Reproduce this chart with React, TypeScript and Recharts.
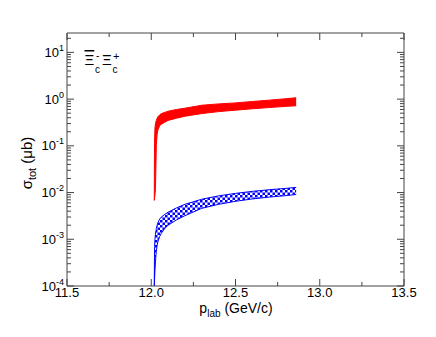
import React from 'react';
import { AreaChart, Area, XAxis, YAxis } from 'recharts';

// p_lab (GeV/c)
const xs = [12.018, 12.019, 12.02, 12.022, 12.025, 12.028, 12.03, 12.035, 12.04, 12.05, 12.06, 12.08, 12.1, 12.15, 12.2, 12.3, 12.4, 12.5, 12.6, 12.7, 12.8, 12.86];
// red band (upper / lower), μb
const redHigh = [0.0068, 0.06, 0.14, 0.24, 0.3, 0.33, 0.35, 0.39, 0.42, 0.46, 0.49, 0.52, 0.55, 0.6, 0.64, 0.74, 0.79, 0.83, 0.89, 0.95, 1.02, 1.07];
const redLow = [0.0068, 0.0072, 0.0078, 0.009, 0.012, 0.04, 0.1, 0.18, 0.22, 0.27, 0.29, 0.32, 0.35, 0.39, 0.43, 0.49, 0.54, 0.58, 0.62, 0.66, 0.7, 0.72];
// blue band (upper / lower), μb
const blueHigh = [0.0001, 0.0004, 0.0007, 0.001, 0.0013, 0.0015, 0.0017, 0.002, 0.0023, 0.0027, 0.003, 0.0034, 0.0038, 0.0047, 0.0056, 0.0072, 0.0085, 0.0096, 0.0106, 0.0115, 0.0123, 0.0129];
const blueLow = [0.0001, 0.00012, 0.00015, 0.00022, 0.00033, 0.00045, 0.00055, 0.00075, 0.0009, 0.00115, 0.00135, 0.0017, 0.002, 0.0026, 0.0032, 0.0046, 0.0056, 0.0065, 0.0073, 0.008, 0.0086, 0.0091];

const xTicks = [11.5, 11.75, 12.0, 12.25, 12.5, 12.75, 13.0, 13.25, 13.5];
const xMajor = [11.5, 12.0, 12.5, 13.0, 13.5];
const yMajorExp = [-4, -3, -2, -1, 0, 1];
const yMinorMult = [1, 2, 3, 4, 5, 6, 7, 8, 9];
const yTop = 26;

const yTicks: number[] = [];
yMajorExp.forEach((e) => {
  yMinorMult.forEach((m) => {
    const v = Number((m * Math.pow(10, e)).toPrecision(6));
    if (v <= yTop) yTicks.push(v);
  });
});

const data = xs.map((x, i) => ({
  x,
  red: [redLow[i], redHigh[i]],
  blue: [blueLow[i], blueHigh[i]],
}));

const FONT = '"Liberation Sans", Arial, Helvetica, sans-serif';
const AXIS = '#444';

const isMajorX = (v: number) => xMajor.some((m) => Math.abs(m - v) < 1e-9);
const isMajorY = (v: number) => Math.abs(Math.log10(v) - Math.round(Math.log10(v))) < 1e-6;

const XTickBottom = (props: any) => {
  const { x, y, payload } = props;
  const major = isMajorX(payload.value);
  return (
    <g>
      <line x1={x} x2={x} y1={y} y2={y - (major ? 7 : 4)} stroke={AXIS} strokeWidth={1} />
      {major && (
        <text x={x} y={y + 11} textAnchor="middle" fontSize={13} fontFamily={FONT} fill="#000">
          {payload.value.toFixed(1)}
        </text>
      )}
    </g>
  );
};

const XTickTop = (props: any) => {
  const { x, y, payload } = props;
  const major = isMajorX(payload.value);
  return <line x1={x} x2={x} y1={y} y2={y + (major ? 7 : 4)} stroke={AXIS} strokeWidth={1} />;
};

const YTickLeft = (props: any) => {
  const { x, y, payload } = props;
  const major = isMajorY(payload.value);
  const e = Math.round(Math.log10(payload.value));
  return (
    <g>
      <line x1={x} x2={x + (major ? 7 : 4)} y1={y} y2={y} stroke={AXIS} strokeWidth={1} />
      {major && (
        <text x={x - 3} y={y + 4.5} textAnchor="end" fontSize={13} fontFamily={FONT} fill="#000">
          10<tspan fontSize={9} dy={-6}>{e}</tspan>
        </text>
      )}
    </g>
  );
};

const YTickRight = (props: any) => {
  const { x, y, payload } = props;
  const major = isMajorY(payload.value);
  return <line x1={x} x2={x - (major ? 7 : 4)} y1={y} y2={y} stroke={AXIS} strokeWidth={1} />;
};

export default function App() {
  return (
    <div style={{ position: 'absolute', left: 0, top: 0, width: 436, height: 337, background: '#fff' }}>
      <svg width={0} height={0} style={{ position: 'absolute' }}>
        <defs>
          <pattern id="checker" width={5} height={5} patternUnits="userSpaceOnUse">
            <rect x={0} y={0} width={5} height={5} fill="#fff" />
            <rect x={0} y={0} width={2.5} height={2.5} fill="#00f" />
            <rect x={2.5} y={2.5} width={2.5} height={2.5} fill="#00f" />
          </pattern>
        </defs>
      </svg>
      <AreaChart width={436} height={337} data={data} margin={{ top: 0, right: 0, bottom: 0, left: 0 }}>
        <XAxis
          xAxisId="b"
          dataKey="x"
          type="number"
          domain={[11.5, 13.5]}
          ticks={xTicks}
          interval={0}
          tickSize={0}
          tickMargin={0}
          tick={<XTickBottom />}
          height={51}
          stroke={AXIS}
          allowDataOverflow
        />
        <XAxis
          xAxisId="t"
          orientation="top"
          dataKey="x"
          type="number"
          domain={[11.5, 13.5]}
          ticks={xTicks}
          interval={0}
          tickSize={0}
          tickMargin={0}
          tick={<XTickTop />}
          height={33}
          stroke={AXIS}
          allowDataOverflow
        />
        <YAxis
          yAxisId="l"
          type="number"
          scale="log"
          domain={[1e-4, yTop]}
          ticks={yTicks}
          interval={0}
          tickSize={0}
          tickMargin={0}
          tick={<YTickLeft />}
          width={67}
          stroke={AXIS}
          allowDataOverflow
        />
        <YAxis
          yAxisId="r"
          orientation="right"
          type="number"
          scale="log"
          domain={[1e-4, yTop]}
          ticks={yTicks}
          interval={0}
          tickSize={0}
          tickMargin={0}
          tick={<YTickRight />}
          width={32}
          stroke={AXIS}
          allowDataOverflow
        />
        <Area
          xAxisId="b"
          yAxisId="l"
          dataKey="red"
          type="linear"
          stroke="#ff0000"
          strokeWidth={1}
          fill="#ff0000"
          fillOpacity={1}
          isAnimationActive={false}
        />
        <Area
          xAxisId="b"
          yAxisId="l"
          dataKey="blue"
          type="linear"
          stroke="#0000ff"
          strokeWidth={1}
          fill="url(#checker)"
          fillOpacity={1}
          isAnimationActive={false}
        />
      </AreaChart>
      <svg width={436} height={337} style={{ position: 'absolute', left: 0, top: 0, pointerEvents: 'none' }}>
        <g fontFamily={FONT} fill="#000">
          <text x={236} y={313} textAnchor="middle" fontSize={14}>
            p<tspan fontSize={10} dy={4}>lab</tspan>
            <tspan dy={-4}> (GeV/c)</tspan>
          </text>
          <text transform="rotate(-90)" x={-163} y={32} textAnchor="middle" fontSize={15}>
            σ<tspan fontSize={11} dy={4}>tot</tspan>
            <tspan dy={-4}> (μb)</tspan>
          </text>
          <text x={84.5} y={65} fontSize={15} style={{ textDecoration: 'overline' }}>Ξ</text>
          <text x={95} y={73} fontSize={10}>c</text>
          <text x={96} y={59} fontSize={10}>-</text>
          <text x={102} y={65} fontSize={15}>Ξ</text>
          <text x={112.5} y={73} fontSize={10}>c</text>
          <text x={113} y={60} fontSize={11}>+</text>
        </g>
      </svg>
    </div>
  );
}
